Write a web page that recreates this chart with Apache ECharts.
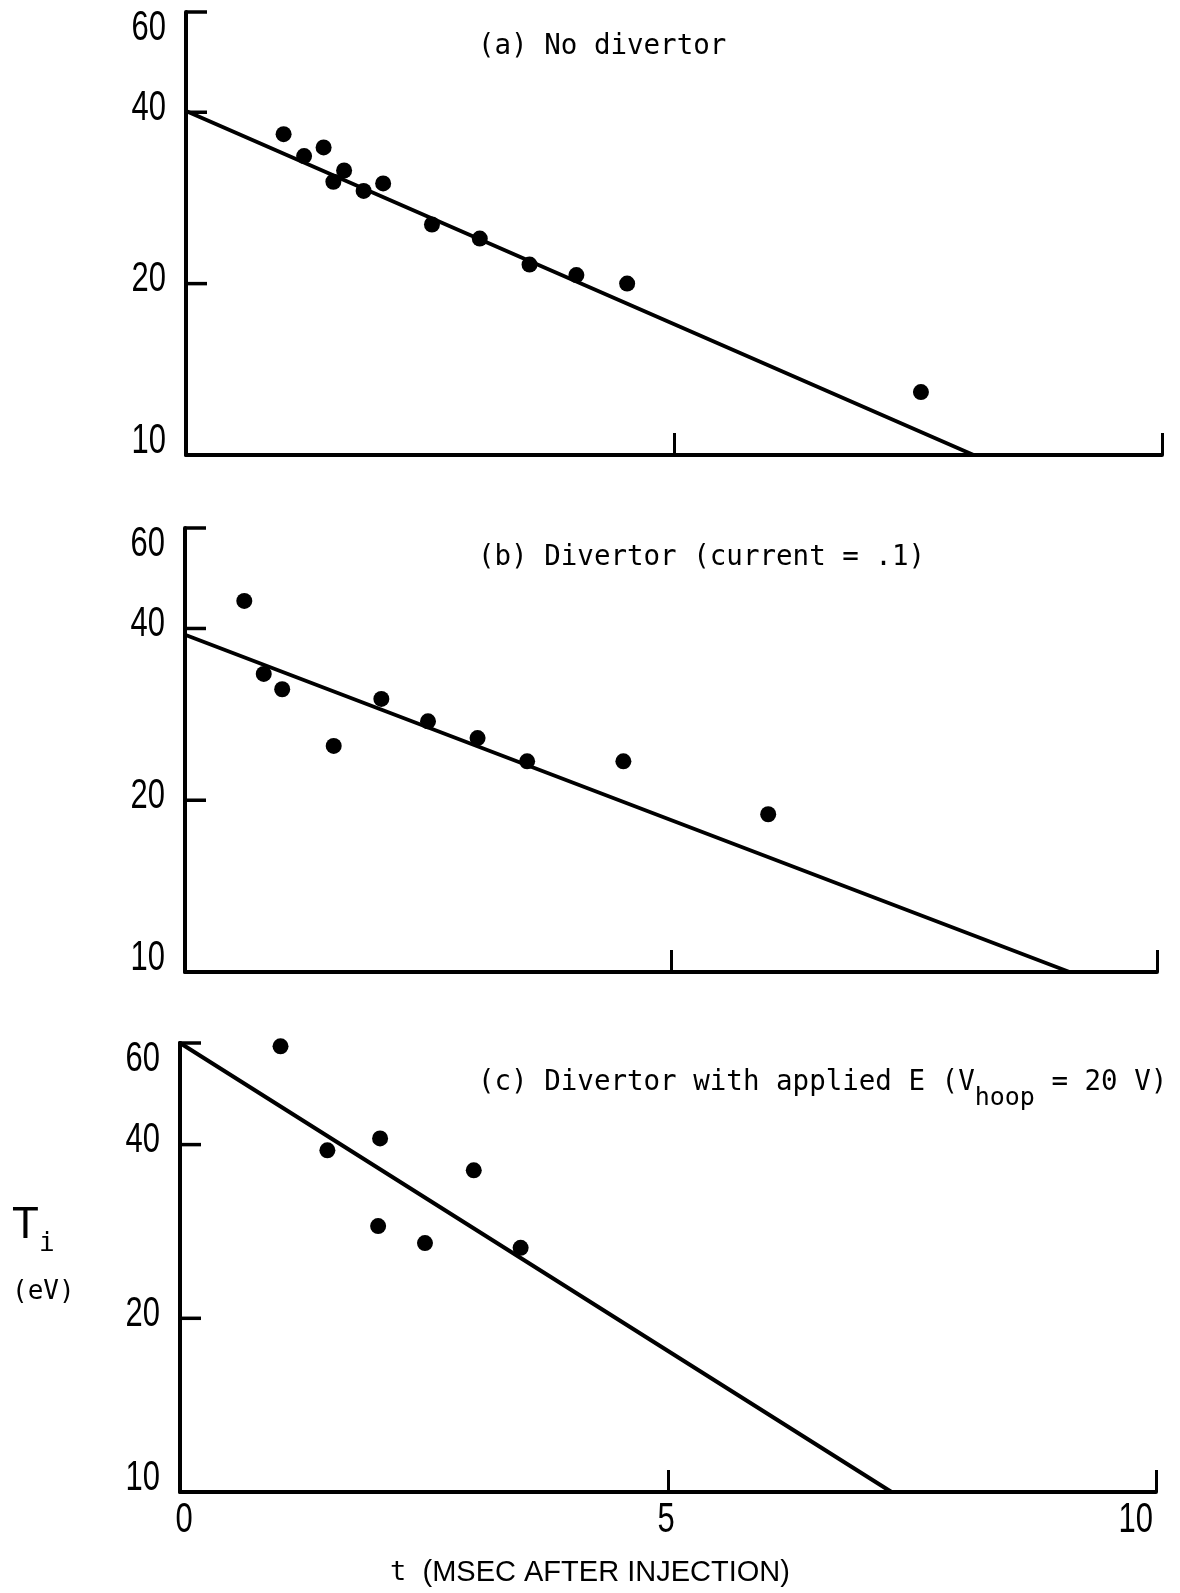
<!DOCTYPE html>
<html>
<head>
<meta charset="utf-8">
<title>Ion temperature decay after injection</title>
<script src="https://cdn.jsdelivr.net/npm/echarts@6/dist/echarts.min.js"></script>
<style>
  html, body { margin: 0; padding: 0; background: #ffffff; }
  #chart { width: 1180px; height: 1593px; }
</style>
</head>
<body>
<div id="chart"></div>
<script>
// Ion temperature T_i (eV) versus time after injection (ms), three divertor settings.

// Tick values on the logarithmic temperature axis and on the time axis
const yTickValues = [10, 20, 40, 60];
const xTickValues = [0, 5, 10];

// Panel titles
const titleA = '(a) No divertor';
const titleB = '(b) Divertor (current = .1)';
const titleC = '{m|(c) Divertor with applied E (V}{s|hoop}{m| = 20 V)}';

// (a) No divertor
const timeA = [1.00, 1.21, 1.41, 1.51, 1.62, 1.82, 2.02, 2.52, 3.01, 3.52, 4.00, 4.52, 7.53];
const tempA = [36.6, 33.5, 34.7, 30.2, 31.6, 29.1, 30.0, 25.4, 24.0, 21.6, 20.7, 20.0, 12.9];
const fitA  = [[0, 40.2], [8.07, 10]];

// (b) Divertor, current = .1
const timeB = [0.61, 0.81, 1.00, 1.53, 2.02, 2.50, 3.01, 3.52, 4.51, 6.00];
const tempB = [44.7, 33.3, 31.3, 24.9, 30.1, 27.5, 25.7, 23.4, 23.4, 18.9];
const fitB  = [[0, 39.0], [9.10, 10]];

// (c) Divertor with applied E, V_hoop = 20 V
const timeC = [1.03, 1.51, 2.05, 2.03, 2.51, 3.01, 3.49];
const tempC = [59.2, 39.1, 41.0, 28.9, 27.0, 36.1, 26.5];
const fitC  = [[0, 60.0], [7.29, 10]];

const INK = '#000000';
const NUM_FONT = "'Liberation Sans', 'DejaVu Sans', sans-serif";
const MONO = "'DejaVu Sans Mono', 'Liberation Mono', monospace";
const SANS = "'Liberation Sans', 'DejaVu Sans', sans-serif";
const NUM_SIZE = 43;      // tick label font size
const NUM_SQUEEZE = 0.72; // horizontal squeeze for the tall, narrow tick numerals

const panels = [
  { box: { left: 186, top: 12,   width: 976, height: 443 }, t: timeA, v: tempA, fit: fitA, xLabels: false },
  { box: { left: 185, top: 528,  width: 972, height: 444 }, t: timeB, v: tempB, fit: fitB, xLabels: false },
  { box: { left: 180, top: 1043, width: 976, height: 449 }, t: timeC, v: tempC, fit: fitC, xLabels: true }
];

const yMin = yTickValues[0];
const yMax = yTickValues[yTickValues.length - 1];
const xMax = xTickValues[xTickValues.length - 1];

const grid = [], xAxis = [], yAxis = [], series = [];

panels.forEach((p, i) => {
  grid.push(Object.assign({ containLabel: false }, p.box));

  xAxis.push({
    type: 'value', gridIndex: i, min: 0, max: xMax, interval: 5,
    axisLine: { show: true, onZero: false, lineStyle: { color: INK, width: 4 } },
    axisTick: { show: true, inside: true, length: 22, lineStyle: { color: INK, width: 3 } },
    axisLabel: { show: false },
    splitLine: { show: false }
  });

  yAxis.push({
    type: 'log', logBase: 10, gridIndex: i, min: yMin, max: yMax,
    axisLine: { show: true, onZero: false, lineStyle: { color: INK, width: 4 } },
    axisTick: { show: false },
    axisLabel: { show: false },
    splitLine: { show: false }
  });

  // Straight-line fit (exponential decay on the log axis)
  series.push({
    type: 'line', xAxisIndex: i, yAxisIndex: i, data: p.fit,
    symbol: 'none', silent: true, z: 2,
    lineStyle: { color: INK, width: 4, cap: 'round' }
  });

  // Measured points
  series.push({
    type: 'scatter', xAxisIndex: i, yAxisIndex: i,
    data: p.t.map((x, k) => [x, p.v[k]]),
    symbol: 'circle', symbolSize: 16, silent: true, z: 3,
    itemStyle: { color: INK, opacity: 1 }
  });

  // Inward tick marks on the temperature axis
  series.push({
    type: 'scatter', xAxisIndex: i, yAxisIndex: i, clip: false, silent: true, z: 4,
    data: yTickValues.map(v => [0, v]),
    symbol: 'rect', symbolSize: [21, 3.5], symbolOffset: [10.5, 0],
    itemStyle: { color: INK, opacity: 1 }
  });
});

const panelTitleStyle = { fontFamily: MONO, fontSize: 27.5, lineHeight: 28, fontWeight: 'normal', color: INK };

const option = {
  backgroundColor: '#ffffff',
  animation: false,
  title: [
    { text: titleA, left: 478, top: 33, padding: 0, textStyle: panelTitleStyle },
    { text: titleB, left: 478, top: 544, padding: 0, textStyle: panelTitleStyle },
    {
      text: titleC, left: 478, top: 1069, padding: 0,
      textStyle: {
        fontFamily: MONO, fontSize: 27.5, fontWeight: 'normal', color: INK,
        rich: {
          m: { fontFamily: MONO, fontSize: 27.5, lineHeight: 28, verticalAlign: 'top', color: INK },
          s: { fontFamily: MONO, fontSize: 25, lineHeight: 25, padding: [17, 0, 0, 0], verticalAlign: 'top', color: INK }
        }
      }
    },
    {
      // Temperature axis name
      text: '{T|T}{i|i}\n{u|(eV)}', left: 12, top: 1204, padding: 0,
      textStyle: {
        fontFamily: MONO, fontSize: 26, fontWeight: 'normal', color: INK,
        rich: {
          T: { fontFamily: SANS, fontSize: 44, lineHeight: 44, verticalAlign: 'top', color: INK },
          i: { fontFamily: MONO, fontSize: 26, lineHeight: 26, padding: [27, 0, 0, 0], verticalAlign: 'top', color: INK },
          u: { fontFamily: MONO, fontSize: 26, lineHeight: 26, padding: [31, 0, 0, 0], verticalAlign: 'top', color: INK }
        }
      }
    },
    {
      // Time axis name
      text: '{t|t} {c|(MSEC AFTER INJECTION)}', left: 390, top: 1557, padding: 0,
      textStyle: {
        fontFamily: MONO, fontSize: 27, fontWeight: 'normal', color: INK,
        rich: {
          t: { fontFamily: MONO, fontSize: 27, lineHeight: 32, color: INK },
          c: { fontFamily: SANS, fontSize: 29, lineHeight: 32, color: INK }
        }
      }
    }
  ],
  grid: grid,
  xAxis: xAxis,
  yAxis: yAxis,
  series: series
};

const chart = echarts.init(document.getElementById('chart'), null, { renderer: 'canvas' });
chart.setOption(option);

// Tick numerals, placed through each panel's own axis scales
const numStyle = { fill: INK, font: NUM_SIZE + 'px ' + NUM_FONT };
const labels = [];
panels.forEach((p, i) => {
  yTickValues.forEach(v => {
    const pt = chart.convertToPixel({ gridIndex: i }, [0, v]);
    const dy = v === yMax ? 16 : (v === yMin ? -14 : -4);
    labels.push({
      type: 'text', silent: true, z: 10,
      x: pt[0] - 20, y: pt[1] + dy, scaleX: NUM_SQUEEZE,
      style: Object.assign({ text: String(v), align: 'right', verticalAlign: 'middle' }, numStyle)
    });
  });
  if (p.xLabels) {
    xTickValues.forEach(v => {
      const pt = chart.convertToPixel({ gridIndex: i }, [v, yMin]);
      const last = v === xMax;
      labels.push({
        type: 'text', silent: true, z: 10,
        x: last ? pt[0] - 3 : pt[0] + (v === 0 ? 4 : -2), y: pt[1] + 28, scaleX: NUM_SQUEEZE,
        style: Object.assign({ text: String(v), align: last ? 'right' : 'center', verticalAlign: 'middle' }, numStyle)
      });
    });
  }
});
chart.setOption({ graphic: labels });
</script>
</body>
</html>
